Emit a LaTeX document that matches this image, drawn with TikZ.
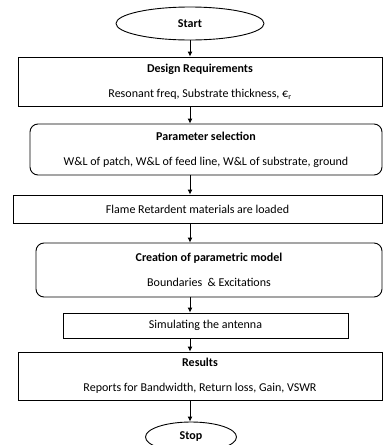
\documentclass[tikz,border=0pt]{standalone}
\usepackage{fontspec}
\setmainfont{Carlito}
\usetikzlibrary{shapes}
\usetikzlibrary{positioning}
\usetikzlibrary{arrows.meta}

\tikzset{
	box/.style={draw,line width=0.9pt,inner sep=0pt,align=center,font=\fontsize{12}{14}\selectfont},
	roundbox/.style={box,rounded corners=8pt},
	oval/.style={box,ellipse},
	arr/.style={-{Latex[length=5pt,width=5pt]},line width=0.9pt}
}

\begin{document}
\begin{tikzpicture}[x=1pt,y=-1pt]
		\useasboundingbox (0,0) rectangle (383,445);
		\clip (0,0) rectangle (383,445);
		%Start
			\node[oval,minimum width=148,minimum height=33] (start) at (190,23.5) {\textbf{Start}};
		%Design requirements
			\node[box,minimum width=364,minimum height=49] (design) at (200,81.5)
				{\textbf{Design Requirements}\\[11pt]Resonant freq, Substrate thickness, €\textsubscript{r}};
		%Parameter selection
			\node[roundbox,minimum width=352,minimum height=51] (param) at (206,149.5)
				{\textbf{Parameter selection}\\[11pt]W\&L of patch, W\&L of feed line, W\&L of substrate, ground};
		%Materials
			\node[box,minimum width=369,minimum height=28] (flame) at (197.5,209)
				{Flame Retardent materials are loaded};
		%Model
			\node[roundbox,minimum width=346,minimum height=54] (create) at (209,270)
				{\textbf{Creation of parametric model}\\[11pt]Boundaries~ \& Excitations};
		%Simulation
			\node[box,minimum width=285,minimum height=25] (sim) at (205.5,325.5)
				{Simulating the antenna};
		%Results
			\node[box,minimum width=364,minimum height=48] (results) at (200,376)
				{\textbf{Results}\\[11pt]Reports for Bandwidth, Return loss, Gain, VSWR};
		%Stop
			\node[oval,minimum width=91,minimum height=30] (stop) at (191,437) {\textbf{Stop}};
		%Arrows
			\foreach \a/\b in {start/design,design/param,param/flame,flame/create,create/sim,sim/results,results/stop}
			{
				\draw[arr] (\a.south -| start) -- (\b.north -| start);
			}
	\end{tikzpicture}
\end{document}
